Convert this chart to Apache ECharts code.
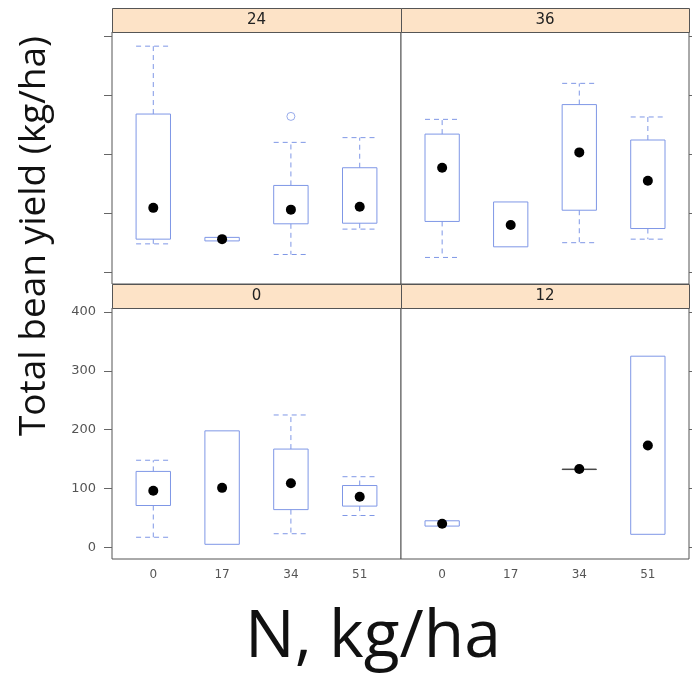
<!DOCTYPE html>
<html>
<head>
<meta charset="utf-8">
<script src="https://cdn.jsdelivr.net/npm/echarts@6/dist/echarts.min.js"></script>
<style>
html, body { margin: 0; padding: 0; background: #fff; }
#main { width: 692px; height: 677px; }
</style>
</head>
<body>
<div id="main"></div>
<script>
// N levels on the x axis
var nLevels = ['0', '17', '34', '51'];
var yTicks = [0, 100, 200, 300, 400];

// each box: [lower whisker, Q1, median, Q3, upper whisker], null = no data
var box24 = [[48, 56, 109, 268, 383], [53, 53, 56, 59, 59], [30, 82, 106, 147, 220], [73, 83, 111, 177, 228]];
var box36 = [[25, 86, 177, 234, 259], [43, 43, 80, 119, 119], [50, 105, 203, 284, 320], [56, 74, 155, 224, 263]];
var box0 = [[17, 71, 96, 129, 148], [5, 5, 101, 198, 198], [23, 64, 109, 167, 225], [54, 70, 86, 105, 120]];
var box12 = [[36, 36, 40, 45, 45], null, [133, 133, 133, 133, 133], [22, 22, 173, 325, 325]];
// outliers: [level index, value]
var out24 = [[2, 264]];

var boxColor = '#7f97e6';

// panel layout (lattice style, 2 x 2)
var panels = [
  { label: '24', boxes: box24, out: out24, left: 112, top: 32, width: 289, height: 252, yLabels: false, yPos: 'left', xLabels: false },
  { label: '36', boxes: box36, out: [], left: 401, top: 32, width: 288, height: 252, yLabels: false, yPos: 'right', xLabels: false },
  { label: '0', boxes: box0, out: [], left: 112, top: 308, width: 289, height: 251, yLabels: true, yPos: 'left', xLabels: true },
  { label: '12', boxes: box12, out: [], left: 401, top: 308, width: 288, height: 251, yLabels: false, yPos: 'right', xLabels: true }
];

function renderBox(params, api) {
  var x = api.value(0);
  var lo = api.value(1), q1 = api.value(2), med = api.value(3), q3 = api.value(4), hi = api.value(5);
  var half = api.size([0.5, 0])[0] / 2;
  var pMed = api.coord([x, med]);
  var cx = pMed[0];
  var yLo = api.coord([x, lo])[1], yQ1 = api.coord([x, q1])[1];
  var yQ3 = api.coord([x, q3])[1], yHi = api.coord([x, hi])[1];
  var dash = { stroke: boxColor, lineWidth: 1, lineDash: [5, 4] };
  var kids = [];
  if (hi > q3) {
    kids.push({ type: 'line', shape: { x1: cx, y1: yQ3, x2: cx, y2: yHi }, style: dash });
    kids.push({ type: 'line', shape: { x1: cx - half, y1: yHi, x2: cx + half, y2: yHi }, style: dash });
  }
  if (lo < q1) {
    kids.push({ type: 'line', shape: { x1: cx, y1: yQ1, x2: cx, y2: yLo }, style: dash });
    kids.push({ type: 'line', shape: { x1: cx - half, y1: yLo, x2: cx + half, y2: yLo }, style: dash });
  }
  kids.push({
    type: 'rect',
    shape: { x: cx - half, y: yQ3, width: half * 2, height: Math.max(yQ1 - yQ3, 0.5) },
    style: { fill: 'none', stroke: q3 - q1 < 1 ? '#444' : boxColor, lineWidth: 1 }
  });
  kids.push({ type: 'circle', shape: { cx: cx, cy: pMed[1], r: 5 }, style: { fill: '#000' } });
  return { type: 'group', children: kids };
}

var grid = [], xAxis = [], yAxis = [], series = [], graphic = [];

panels.forEach(function (p, i) {
  grid.push({ left: p.left, top: p.top, width: p.width, height: p.height, show: true, borderColor: '#555', borderWidth: 1, backgroundColor: '#fff' });
  xAxis.push({
    type: 'value', gridIndex: i, min: 0.4, max: 4.6,
    splitLine: { show: false }, axisLine: { show: false },
    axisTick: { show: false },
    axisLabel: {
      show: p.xLabels, customValues: [1, 2, 3, 4], margin: 10,
      color: '#555', fontSize: 12, fontFamily: 'DejaVu Sans',
      formatter: function (v) { return nLevels[Math.round(v) - 1]; }
    }
  });
  yAxis.push({
    type: 'value', gridIndex: i, min: -20, max: 407, position: p.yPos,
    splitLine: { show: false }, axisLine: { show: false },
    axisTick: { show: true, length: 8, lineStyle: { color: '#666' }, customValues: yTicks },
    axisLabel: { show: p.yLabels, customValues: yTicks, margin: 16, color: '#555', fontSize: 13, fontFamily: 'DejaVu Sans' }
  });
  var data = [];
  p.boxes.forEach(function (b, k) {
    if (b) data.push([k + 1].concat(b));
  });
  series.push({
    type: 'custom', xAxisIndex: i, yAxisIndex: i, renderItem: renderBox,
    encode: { x: 0, y: [1, 2, 3, 4, 5] }, data: data, silent: true, clip: false
  });
  if (p.out.length) {
    series.push({
      type: 'scatter', xAxisIndex: i, yAxisIndex: i, symbol: 'circle', symbolSize: 8,
      itemStyle: { color: '#fff', borderColor: boxColor, borderWidth: 1 },
      data: p.out.map(function (o) { return [o[0] + 1, o[1]]; })
    });
  }
  // strip on top of each panel
  graphic.push({
    type: 'rect', left: p.left, top: p.top - 24,
    shape: { width: p.width, height: 24 },
    style: { fill: '#fde3c7', stroke: '#555', lineWidth: 1 }, z: 10
  });
  graphic.push({
    type: 'text', x: p.left + p.width / 2, y: p.top - 12,
    style: { text: p.label, fill: '#222', font: '15px "DejaVu Sans"', textAlign: 'center', textVerticalAlign: 'middle' }, z: 11
  });
});

// axis titles
graphic.push({
  type: 'text', x: 34, y: 236, rotation: Math.PI / 2,
  style: { text: 'Total bean yield (kg/ha)', fill: '#111', font: '37px "Open Sans"', textAlign: 'center', textVerticalAlign: 'middle' }
});
graphic.push({
  type: 'text', x: 373, y: 638,
  style: { text: 'N, kg/ha', fill: '#111', font: '66px "Open Sans"', textAlign: 'center', textVerticalAlign: 'middle' }
});

var myChart = echarts.init(document.getElementById('main'));
myChart.setOption({
  animation: false,
  backgroundColor: '#fff',
  grid: grid,
  xAxis: xAxis,
  yAxis: yAxis,
  series: series,
  graphic: graphic
});
</script>
</body>
</html>
